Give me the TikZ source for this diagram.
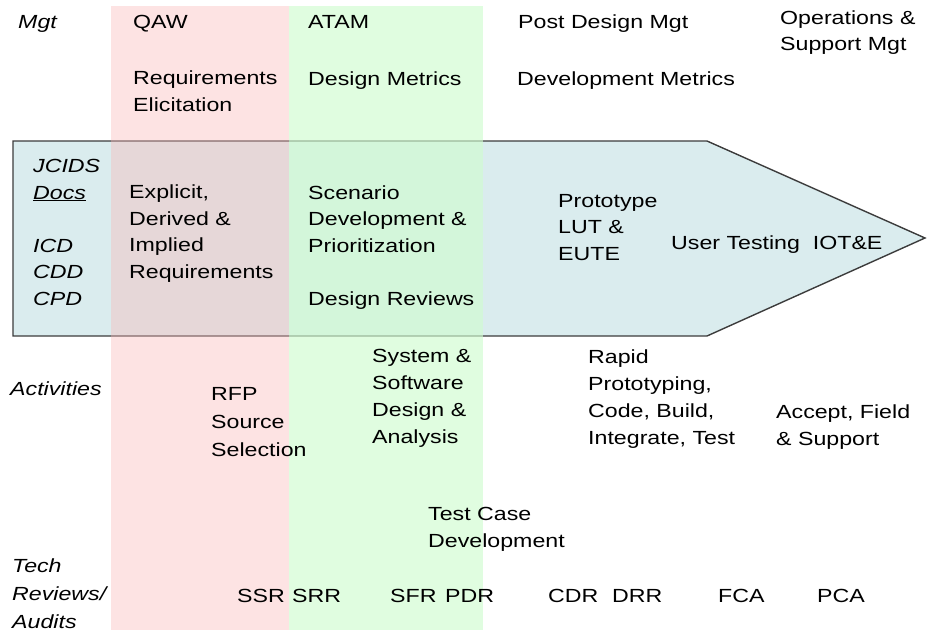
\documentclass[tikz,border=0pt]{standalone}
\usepackage{fontspec}
\setmainfont[FakeStretch=1.22]{Liberation Sans}
\definecolor{arrowblue}{RGB}{218,236,238}
\definecolor{arrowedge}{RGB}{60,60,60}
\definecolor{qawpink}{RGB}{250,181,181}
\definecolor{atamgreen}{RGB}{208,252,208}
\begin{document}
\begin{tikzpicture}[
x=1pt, y=-1pt,
lbl/.style={anchor=base west, align=left, inner sep=0pt, font=\fontsize{19}{26.5}\selectfont},
rowlbl/.style={lbl, font=\fontsize{19}{27.5}\selectfont\itshape},
]
\useasboundingbox (0,0) rectangle (927,634);

%Arrow and bands
\draw[line width=1.4pt, draw=arrowedge, fill=arrowblue] (13,141) -- (707,141) -- (925,238) -- (707,336) -- (13,336) -- cycle;
\fill[qawpink, fill opacity=0.38] (111,6) rectangle (289,630);
\fill[atamgreen, fill opacity=0.65] (289,6) rectangle (483,630);

%Nodes (multi-line nodes sit on the baseline of their last line)
\node[rowlbl] (mgt) at (18,29) {Mgt};
\node[lbl] (qaw) at (133,29) {QAW};
\node[lbl] (atam) at (308,29) {ATAM};
\node[lbl] (postdesign) at (518,29) {Post Design Mgt};
\node[lbl] (opsupport) at (780,51) {Operations \&\\Support Mgt};
\node[lbl] (reqelicit) at (133,111) {Requirements\\Elicitation};
\node[lbl] (designmetrics) at (308,85) {Design Metrics};
\node[lbl] (devmetrics) at (517,85) {Development Metrics};

\node[rowlbl, font=\fontsize{19}{26.5}\selectfont\itshape] (jcids) at (33,305) {JCIDS\\\underline{Docs}\\[26.5pt]ICD\\CDD\\CPD};
\node[lbl] (explicit) at (129,278) {Explicit,\\Derived \&\\Implied\\Requirements};
\node[lbl] (scenario) at (308,305) {Scenario\\Development \&\\Prioritization\\[26.5pt]Design Reviews};
\node[lbl] (prototype) at (558,260) {Prototype\\LUT \&\\EUTE};
\node[lbl] (usertest) at (671,249) {User Testing\ \ IOT\&E};

\node[rowlbl] (activities) at (10,395) {Activities};
\node[lbl, font=\fontsize{19}{28}\selectfont] (rfp) at (211,456) {RFP\\Source\\Selection};
\node[lbl, font=\fontsize{19}{27}\selectfont] (syssw) at (372,443) {System \&\\Software\\Design \&\\Analysis};
\node[lbl, font=\fontsize{19}{27}\selectfont] (rapid) at (588,444) {Rapid\\Prototyping,\\Code, Build,\\Integrate, Test};
\node[lbl, font=\fontsize{19}{27}\selectfont] (accept) at (776,445) {Accept, Field\\\& Support};
\node[lbl, font=\fontsize{19}{27}\selectfont] (testcase) at (428,547) {Test Case\\Development};

\node[rowlbl, font=\fontsize{19}{28}\selectfont\itshape] (techreviews) at (12,628) {Tech\\Reviews/\\Audits};
\node[lbl] (ssr) at (237,602) {SSR};
\node[lbl] (srr) at (292,602) {SRR};
\node[lbl] (sfr) at (390,602) {SFR};
\node[lbl] (pdr) at (445,602) {PDR};
\node[lbl] (cdr) at (548,602) {CDR};
\node[lbl] (drr) at (612,602) {DRR};
\node[lbl] (fca) at (718,602) {FCA};
\node[lbl] (pca) at (817,602) {PCA};

\end{tikzpicture}
\end{document}
